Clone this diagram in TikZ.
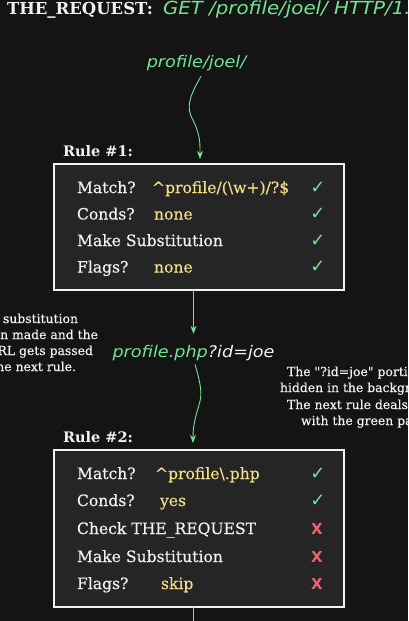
\documentclass[tikz,border=0pt]{standalone}
\usepackage{fontspec}
\setmainfont{DejaVu Serif}
\newfontfamily\bodyfont[FakeBold=0.4]{DejaVu Serif}
\newfontfamily\handfont[FakeStretch=1.1]{DejaVu Sans}
\newfontfamily\symfont{DejaVu Sans}
\usetikzlibrary{arrows.meta}
\definecolor{bgc}{RGB}{20,20,20}
\definecolor{boxc}{RGB}{37,37,37}
\definecolor{grn}{RGB}{115,228,145}
\definecolor{yel}{RGB}{242,222,135}
\definecolor{pnk}{RGB}{240,98,118}
\definecolor{wht}{RGB}{242,242,242}
\tikzset{
  every node/.style={inner sep=0pt, outer sep=0pt},
  rulebox/.style={draw=wht, line width=2pt, fill=boxc, minimum width=290pt},
  lbl/.style={text=wht, font=\bodyfont\fontsize{15.6}{18}\selectfont, anchor=base west},
  val/.style={text=yel, font=\bodyfont\fontsize{15.6}{18}\selectfont, anchor=base west},
  head/.style={text=wht, font=\bfseries\fontsize{14.5}{17}\selectfont, anchor=base west},
  hand/.style={text=grn, font=\handfont\itshape\fontsize{16}{18}\selectfont},
  note/.style={text=wht, font=\bodyfont\fontsize{12.4}{15}\selectfont},
  ok/.style={text=grn, font=\symfont\bfseries\fontsize{18}{18}\selectfont, anchor=base},
  bad/.style={text=pnk, font=\symfont\bfseries\fontsize{15}{18}\selectfont, anchor=base},
  flow/.style={draw=grn, line width=0.9pt, -{Stealth[length=8pt,width=6pt]}},
  plain/.style={draw=grn, line width=0.9pt}
}
\begin{document}
\begin{tikzpicture}[x=1pt,y=-1pt]
\path[use as bounding box, clip] (0,0) rectangle (408,621);
\fill[bgc] (0,0) rectangle (408,621);

% header
\node[head, font=\bfseries\fontsize{16.5}{18}\selectfont] (req) at (7,14) {THE\_REQUEST:};
\node[hand, anchor=base west, font=\handfont\itshape\fontsize{18}{20}\selectfont] (reqv) at (163,14) {GET /profile/joel/ HTTP/1.1};

% first request path
\node[hand, anchor=base] (pj) at (196.5,67) {profile/joel/};

% rule 1
\node[head] (r1) at (63,156) {Rule \#1:};
\node[rulebox, minimum height=126pt] (box1) at (199,227) {};
\node[lbl] (a1) at (77,193) {Match?};
\node[val] (a1v) at (152,193) {\^{}profile/(\textbackslash w+)/?\$};
\node[ok] (a1c) at (318,193) {✓};
\node[lbl] (b1) at (77,219.5) {Conds?};
\node[val] (b1v) at (154,219.5) {none};
\node[ok] (b1c) at (318,219.5) {✓};
\node[lbl] (c1) at (77,246) {Make Substitution};
\node[ok] (c1c) at (318,246) {✓};
\node[lbl] (d1) at (77,272.5) {Flags?};
\node[val] (d1v) at (154,272.5) {none};
\node[ok] (d1c) at (318,272.5) {✓};

% rewritten path
\node[hand, anchor=base] (pp) at (193.5,357) {profile.php\textcolor{wht}{?id=joe}};

% notes
\node[note, anchor=base east] (n1) at (78,323) {substitution};
\node[note, anchor=base east] (n2) at (98,339) {en made and the};
\node[note, anchor=base east] (n3) at (93,355) {RL gets passed};
\node[note, anchor=base east] (n4) at (76,371) {he next rule.};

\node[note, anchor=base west] (m1) at (287,376) {The "?id=joe" porti};
\node[note, anchor=base west] (m2) at (280,392) {hidden in the backgr};
\node[note, anchor=base west] (m3) at (287,409) {The next rule deals};
\node[note, anchor=base west] (m4) at (301,425) {with the green pa};

% rule 2
\node[head] (r2) at (63,442) {Rule \#2:};
\node[rulebox, minimum height=157pt] (box2) at (199,528.5) {};
\node[lbl] (a2) at (77,479) {Match?};
\node[val] (a2v) at (155,479) {\^{}profile\textbackslash.php};
\node[ok] (a2c) at (318,479) {✓};
\node[lbl] (b2) at (77,506) {Conds?};
\node[val] (b2v) at (160,506) {yes};
\node[ok] (b2c) at (318,506) {✓};
\node[lbl] (c2) at (77,534) {Check THE\_REQUEST};
\node[bad] (c2c) at (317,534) {X};
\node[lbl] (d2) at (77,562) {Make Substitution};
\node[bad] (d2c) at (317,562) {X};
\node[lbl] (e2) at (77,589) {Flags?};
\node[val] (e2v) at (161,589) {skip};
\node[bad] (e2c) at (317,589) {X};

\coordinate (exit) at (193,621);

% connectors
\draw[flow] ([xshift=4.5pt,yshift=-6pt]pj.south) .. controls (192,92) and (186,104) .. (191,116)
  .. controls (197,128) and (200,136) .. (200,148) -- ([xshift=1pt,yshift=5pt]box1.north);
\draw[flow] (box1.south -| pp.north) -- ([yshift=11pt]pp.north);
\draw[flow] ([xshift=1.5pt,yshift=-4pt]pp.south) .. controls (200,382) and (203,393) .. (199,405)
  .. controls (195,418) and (193,426) .. ([xshift=-6pt,yshift=7pt]box2.north);
\draw[plain] (box2.south -| exit) -- (exit);
\end{tikzpicture}
\end{document}
